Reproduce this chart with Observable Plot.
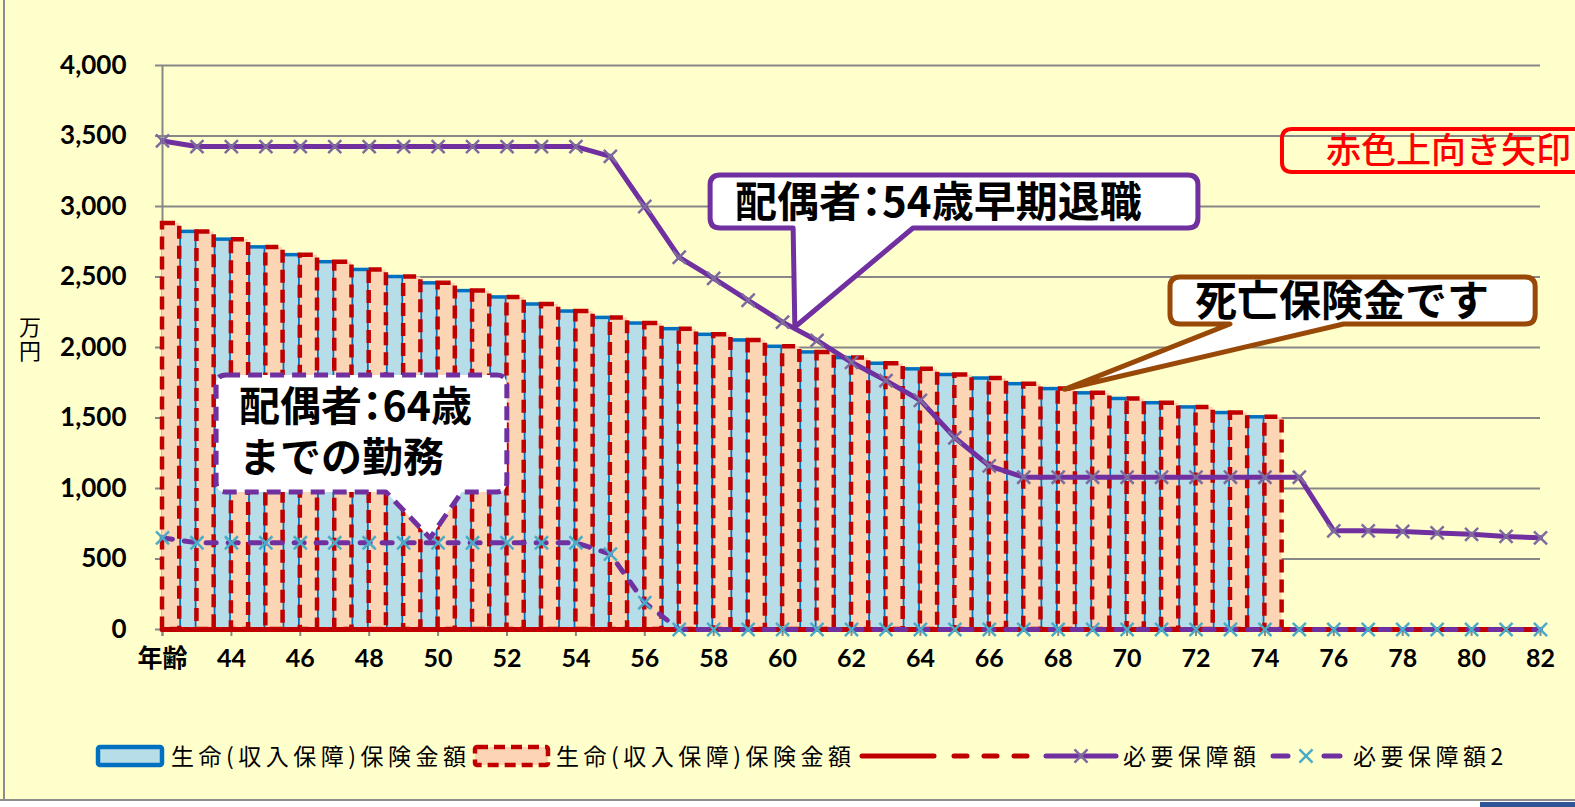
<!DOCTYPE html>
<html>
<head>
<meta charset="utf-8">
<script src="https://cdn.jsdelivr.net/npm/d3@7"></script>
<script src="https://cdn.jsdelivr.net/npm/@observablehq/plot@0.6"></script>
<style>
  body { margin: 0; background: #ffffff; }
  #wrap { position: relative; width: 1575px; height: 807px; overflow: hidden; background: #ffffff; }
  #chart { position: absolute; left: 0; top: 0; width: 1575px; height: 799px; background: #FFFFCC; overflow: hidden; }
  #leftline { position: absolute; left: 3px; top: 0; width: 2px; height: 801px; background: #8c8c8c; }
  #bottomline { position: absolute; left: 0; top: 799px; width: 1575px; height: 2px; background: #8c8c8c; }
  #bluebit { position: absolute; left: 1480px; top: 802px; width: 95px; height: 5px; background: #2F5597; }
  .legend { position: relative; height: 50px; font-family: "Noto Sans CJK JP", sans-serif; }
  .legend .sw { position: absolute; }
  .legend .lb { position: absolute; font-size: 23px; line-height: 1; letter-spacing: 4.5px; color: #000; white-space: nowrap; }
</style>
</head>
<body>
<div id="wrap">
  <div id="chart"></div>
  <div id="leftline"></div>
  <div id="bottomline"></div>
  <div id="bluebit"></div>
</div>
<script>
// ---------- data ----------
const ages = [42,43,44,45,46,47,48,49,50,51,52,53,54,55,56,57,58,59,60,61,62,63,64,65,66,67,68,69,70,71,72,73,74,75,76,77,78,79,80,81,82];

const redBarAges = [42,43,44,45,46,47,48,49,50,51,52,53,54,55,56,57,58,59,60,61,62,63,64,65,66,67,68,69,70,71,72,73,74];
const redBarValues = [2880,2820,2765,2710,2655,2605,2550,2500,2455,2400,2355,2305,2255,2210,2170,2130,2090,2050,2005,1965,1925,1885,1845,1805,1780,1740,1705,1675,1635,1605,1575,1535,1505];

const blueBarAges = [43,44,45,46,47,48,49,50,51,52,53,54,55,56,57,58,59,60,61,62,63,64,65,66,67,68,69,70,71,72,73,74];
const blueBarValues = [2820,2765,2710,2655,2605,2550,2500,2455,2400,2355,2305,2255,2210,2170,2130,2090,2050,2005,1965,1925,1885,1845,1805,1780,1740,1705,1675,1635,1605,1575,1535,1505];

const redSolidValues = [0,0,0,0,0,0,0,0,0,0,0,0,0,0,0,0,0,0,0,0,0,0,0,0,0,0,0,0,0,0,0,0,0,0,0,0,0,0,0,0,0];
const redDashedValues = [0,0,0,0,0,0,0,0,0,0,0,0,0,0,0,0,0,0,0,0,0,0,0,0,0,0,0,0,0,0,0,0,0,0,0,0,0,0,0,0,0];

const neededValues = [3465,3425,3425,3425,3425,3425,3425,3425,3425,3425,3425,3425,3425,3355,3000,2640,2490,2335,2180,2050,1895,1765,1625,1360,1160,1080,1080,1080,1080,1080,1080,1080,1080,1080,700,700,695,685,675,660,650];
const needed2Values = [650,615,615,615,615,615,615,615,615,615,615,615,615,535,190,0,0,0,0,0,0,0,0,0,0,0,0,0,0,0,0,0,0,0,0,0,0,0,0,0,0];

const yTicks = [0,500,1000,1500,2000,2500,3000,3500,4000];
const xTickValues = [42,44,46,48,50,52,54,56,58,60,62,64,66,68,70,72,74,76,78,80,82];
const xTickLabels = ["年齢","44","46","48","50","52","54","56","58","60","62","64","66","68","70","72","74","76","78","80","82"];

const seriesNames = ["生命(収入保障)保険金額","生命(収入保障)保険金額","","","必要保障額","必要保障額2"];
const yAxisLabel = "万円";

// callout annotations (in data units: age, 万円)
const callouts = [
  {text: ["配偶者：54歳早期退職"], x1: 57.91, x2: 72.07, top: 3220, bottom: 2844, tip: [60.37, 2142], base1: 60.32, base2: 63.8, kind: "purple"},
  {text: ["死亡保険金です"], x1: 71.26, x2: 81.86, top: 2496, bottom: 2163, tip: [68.2, 1700], base1: 73.0, base2: 76.3, kind: "brown"},
  {text: ["配偶者：64歳", "までの勤務"], x1: 43.57, x2: 52.01, top: 1801, bottom: 972, tip: [49.78, 645], base1: 48.5, base2: 50.7, kind: "dashed"},
  {text: ["赤色上向き矢印"], x1: 74.51, x2: 83.6, top: 3546, bottom: 3241, kind: "red"}
];

// ---------- tables ----------
const redBars = redBarAges.map((a, i) => ({age: a, v: redBarValues[i]}));
const blueBars = blueBarAges.map((a, i) => ({age: a, v: blueBarValues[i]}));
const redSolid = ages.map((a, i) => ({age: a, v: redSolidValues[i]}));
const redDashed = ages.map((a, i) => ({age: a, v: redDashedValues[i]}));
const needed = ages.map((a, i) => ({age: a, v: neededValues[i]}));
const needed2 = ages.map((a, i) => ({age: a, v: needed2Values[i]}));

const PURPLE = "#7030A0", RED = "#C00000", GRID = "#878787";
const numFont = "Lato, 'Noto Sans CJK JP', sans-serif";

const plot = Plot.plot({
  width: 1575,
  height: 735,
  marginLeft: 162,
  marginRight: 35,
  marginTop: 65,
  marginBottom: 106,
  x: {type: "linear", domain: [42, 82], axis: null, label: null},
  y: {domain: [0, 4000], axis: null, label: null},
  style: {background: "transparent", fontFamily: numFont},
  marks: [
    Plot.ruleY(yTicks, {stroke: GRID, strokeWidth: 2, insetLeft: -7}),
    Plot.ruleX([42], {stroke: GRID, strokeWidth: 2, insetBottom: -7}),
    Plot.axisX({ticks: xTickValues, tickSize: 7, tickFormat: () => "", label: null, stroke: GRID, strokeWidth: 2}),
    Plot.text(yTicks, {y: d => d, frameAnchor: "left", dx: -36, textAnchor: "end", text: d => d3.format(",")(d), fontSize: 26, fontWeight: 700, fill: "#000", fontFamily: numFont}),
    Plot.text(xTickValues, {x: d => d, frameAnchor: "bottom", dy: 37, text: (d, i) => xTickLabels[i], fontSize: 25, fontWeight: 700, fill: "#000", fontFamily: numFont}),
    Plot.rectY(blueBars, {x1: d => d.age - 0.5, x2: d => d.age, y: "v", fill: "#B7DEE8", stroke: "#0070C0", strokeWidth: 3.5}),
    Plot.rectY(redBars, {x1: d => d.age, x2: d => d.age + 0.5, y: "v", fill: "#FCD5B5", stroke: RED, strokeWidth: 4.5, strokeDasharray: "13,7"}),
    Plot.line(redSolid, {x: "age", y: "v", stroke: RED, strokeWidth: 5}),
    Plot.line(redDashed, {x: "age", y: "v", stroke: RED, strokeWidth: 5, strokeDasharray: "10,12", strokeLinecap: "round"}),
    Plot.line(needed2, {x: "age", y: "v", stroke: PURPLE, strokeWidth: 5, strokeDasharray: "10,12", strokeLinecap: "round"}),
    Plot.dot(needed2, {x: "age", y: "v", symbol: "times", r: 6, stroke: "#4BACC6", strokeWidth: 2.5}),
    Plot.line(needed, {x: "age", y: "v", stroke: PURPLE, strokeWidth: 5}),
    Plot.dot(needed, {x: "age", y: "v", symbol: "times", r: 6, stroke: "#7E6B9E", strokeWidth: 2.5})
  ]
});

document.getElementById("chart").appendChild(plot);

const sx = plot.scale("x"), sy = plot.scale("y");
const g = d3.select(plot).append("g").attr("class", "callouts").attr("text-anchor", "start");

// ---------- y-axis unit label (vertical writing) ----------
g.append("text")
  .attr("x", 30)
  .attr("y", (sy.apply(4000) + sy.apply(0)) / 2 - 7)
  .attr("text-anchor", "middle")
  .attr("font-family", "'Noto Sans CJK JP', sans-serif")
  .attr("font-size", 22)
  .attr("fill", "#000")
  .style("writing-mode", "vertical-rl")
  .style("letter-spacing", "2px")
  .text(yAxisLabel);

// ---------- callouts ----------
const styles = {
  purple: {stroke: PURPLE, fill: "#ffffff", dash: null, width: 5, color: "#000", size: 42, weight: 700, pad: 25},
  brown: {stroke: "#984807", fill: "#ffffff", dash: null, width: 5, color: "#000", size: 42, weight: 700, pad: 25},
  dashed: {stroke: PURPLE, fill: "#ffffff", dash: "14,8", width: 5, color: "#000", size: 41, weight: 700, pad: 23},
  red: {stroke: "#FF0000", fill: "none", dash: null, width: 4, color: "#FF0000", size: 35, weight: 500, pad: 44}
};
callouts.forEach(c => {
  const s = styles[c.kind];
  const L = sx.apply(c.x1), R = sx.apply(c.x2), T = sy.apply(c.top), B = sy.apply(c.bottom), r = 10;
  let p = `M${L + r},${T}H${R - r}Q${R},${T} ${R},${T + r}V${B - r}Q${R},${B} ${R - r},${B}`;
  if (c.tip) {
    p += `H${sx.apply(c.base2)}L${sx.apply(c.tip[0])},${sy.apply(c.tip[1])}L${sx.apply(c.base1)},${B}`;
  }
  p += `H${L + r}Q${L},${B} ${L},${B - r}V${T + r}Q${L},${T} ${L + r},${T}Z`;
  g.append("path").attr("d", p).attr("fill", s.fill).attr("stroke", s.stroke)
    .attr("stroke-width", s.width).attr("stroke-dasharray", s.dash).attr("stroke-linejoin", "round");
  const cy = (T + B) / 2, lh = 51;
  const n = c.text.length;
  const txt = g.append("text")
    .attr("x", L + s.pad)
    .attr("y", cy - ((n - 1) / 2) * lh - (n > 1 ? 2 : 0))
    .attr("text-anchor", "start")
    .attr("font-family", "'Noto Sans CJK JP', sans-serif")
    .attr("font-size", s.size).attr("font-weight", s.weight).attr("fill", s.color);
  c.text.forEach((t, i) => {
    txt.append("tspan")
      .attr("x", L + s.pad)
      .attr("dy", i === 0 ? "0.36em" : lh)
      .style("font-feature-settings", t.includes("：") ? "'palt'" : "normal")
      .text(t);
  });
});

// ---------- legend ----------
const legend = d3.select("#chart").append("div").attr("class", "legend");
function swatch(left, width, draw) {
  const svg = legend.append("svg").attr("class", "sw").style("left", left + "px").style("top", "0px")
    .attr("width", width).attr("height", 44);
  draw(svg);
}
const cyL = 21;
swatch(95, 70, s => s.append("rect").attr("x", 3).attr("y", cyL - 9).attr("width", 64).attr("height", 18).attr("rx", 2)
  .attr("fill", "#B7DEE8").attr("stroke", "#0070C0").attr("stroke-width", 4.5));
legend.append("span").attr("class", "lb").style("left", "171px").style("top", (cyL - 12) + "px").text(seriesNames[0]);
swatch(472, 80, s => s.append("rect").attr("x", 3).attr("y", cyL - 9).attr("width", 73).attr("height", 18).attr("rx", 2)
  .attr("fill", "#FCD5B5").attr("stroke", RED).attr("stroke-width", 4.5).attr("stroke-dasharray", "11,6"));
legend.append("span").attr("class", "lb").style("left", "556px").style("top", (cyL - 12) + "px").text(seriesNames[1]);
swatch(858, 82, s => s.append("line").attr("x1", 4).attr("x2", 76).attr("y1", cyL).attr("y2", cyL)
  .attr("stroke", RED).attr("stroke-width", 5).attr("stroke-linecap", "round"));
swatch(950, 82, s => s.append("line").attr("x1", 4).attr("x2", 78).attr("y1", cyL).attr("y2", cyL)
  .attr("stroke", RED).attr("stroke-width", 5).attr("stroke-linecap", "round").attr("stroke-dasharray", "13,17"));
swatch(1042, 80, s => {
  s.append("line").attr("x1", 4).attr("x2", 74).attr("y1", cyL).attr("y2", cyL)
    .attr("stroke", PURPLE).attr("stroke-width", 5).attr("stroke-linecap", "round");
  s.append("path").attr("d", d3.symbol(d3.symbolTimes, 113)()).attr("transform", `translate(39,${cyL})`)
    .attr("stroke", "#7E6B9E").attr("stroke-width", 2.5).attr("fill", "none");
});
legend.append("span").attr("class", "lb").style("left", "1123px").style("top", (cyL - 12) + "px").text(seriesNames[4]);
swatch(1268, 80, s => {
  s.append("line").attr("x1", 5).attr("x2", 20).attr("y1", cyL).attr("y2", cyL)
    .attr("stroke", PURPLE).attr("stroke-width", 5).attr("stroke-linecap", "round");
  s.append("line").attr("x1", 56).attr("x2", 72).attr("y1", cyL).attr("y2", cyL)
    .attr("stroke", PURPLE).attr("stroke-width", 5).attr("stroke-linecap", "round");
  s.append("path").attr("d", d3.symbol(d3.symbolTimes, 113)()).attr("transform", `translate(38,${cyL})`)
    .attr("stroke", "#4BACC6").attr("stroke-width", 2.5).attr("fill", "none");
});
legend.append("span").attr("class", "lb").style("left", "1353px").style("top", (cyL - 12) + "px").text(seriesNames[5]);
</script>
</body>
</html>
